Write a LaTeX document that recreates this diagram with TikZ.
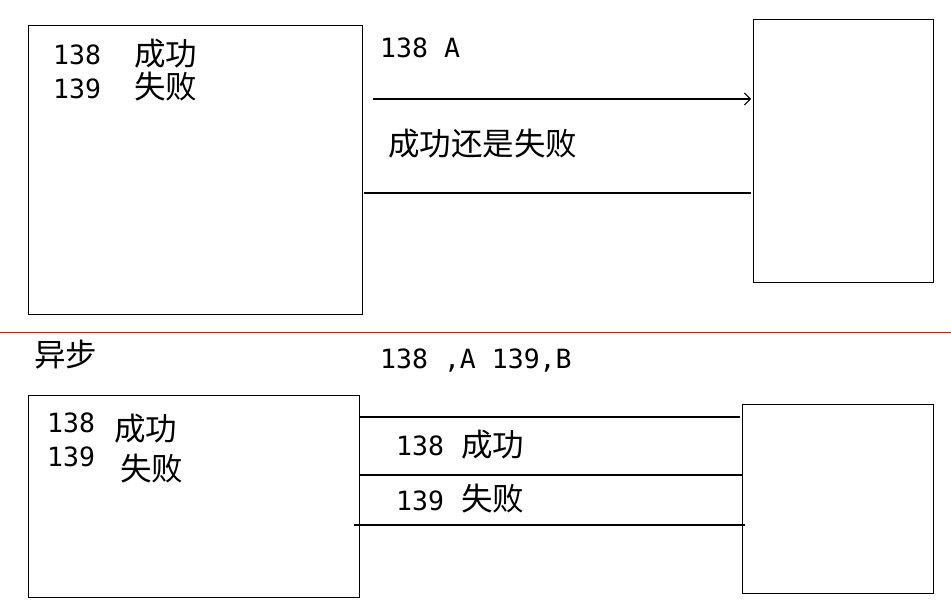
\documentclass[tikz,border=0pt]{standalone}
\usepackage{fontspec}
\usetikzlibrary{arrows.meta}
\newfontfamily\cjk{Noto Sans CJK SC}
\newfontfamily\mono{DejaVu Sans Mono}
\begin{document}
\begin{tikzpicture}[x=1pt,y=-1pt,
  box/.style={draw,line width=1.2pt,inner sep=0pt,anchor=north west},
  ln/.style={line width=1.1pt},
  num/.style={font=\mono\fontsize{26.5}{26.5}\selectfont,anchor=base west,inner sep=0pt},
  zh/.style={font=\cjk\fontsize{31.5}{31.5}\selectfont,anchor=base west,inner sep=0pt}]
\useasboundingbox (0,0) rectangle (951,605);
% boxes
\node[box,minimum width=334pt,minimum height=289pt] (tl) at (28,25) {};
\node[box,minimum width=180pt,minimum height=263pt] (tr) at (753,19) {};
\node[box,minimum width=331pt,minimum height=202pt] (bl) at (28,395) {};
\node[box,minimum width=191pt,minimum height=189pt] (br) at (742,404) {};
% red separator
\coordinate (rl) at (0,332);
\coordinate (rr) at (951,332);
\draw[red,line width=1pt] (rl) -- (rr);
% top connectors
\coordinate (a1) at (373,99);
\coordinate (a2) at (751,99);
\draw[ln,-{Straight Barb[length=6pt,width=12pt,line width=1pt]}] (a1) -- (a2);
\coordinate (b1) at (364,193);
\coordinate (b2) at (751,193);
\draw[ln] (b1) -- (b2);
% bottom connectors
\coordinate (c1) at (360,417);
\coordinate (c2) at (740,417);
\draw[ln] (c1) -- (c2);
\coordinate (d1) at (360,475);
\coordinate (d2) at (742,475);
\draw[ln] (d1) -- (d2);
\coordinate (e1) at (354,525);
\coordinate (e2) at (745,525);
\draw[ln] (e1) -- (e2);
% texts top-left
\node[num] (t1) at (53,64) {138};
\node[zh] (t2) at (134,65) {成功};
\node[num] (t3) at (53,98) {139};
\node[zh] (t4) at (134,98) {失败};
% top connector labels
\node[num] (t5) at (380,57) {138 A};
\node[zh] (t6) at (388,155) {成功还是失败};
% bottom
\node[zh] (t7) at (34,366) {异步};
\node[num] (t8) at (380,368) {138 ,A 139,B};
\node[num] (t9) at (47,432) {138};
\node[zh] (t10) at (114,440) {成功};
\node[num] (t11) at (47,466) {139};
\node[zh] (t12) at (120,480) {失败};
\node[num] (t13) at (396,455) {138};
\node[zh] (t14) at (461,456) {成功};
\node[num] (t15) at (396,510) {139};
\node[zh] (t16) at (461,510) {失败};
\end{tikzpicture}
\end{document}
